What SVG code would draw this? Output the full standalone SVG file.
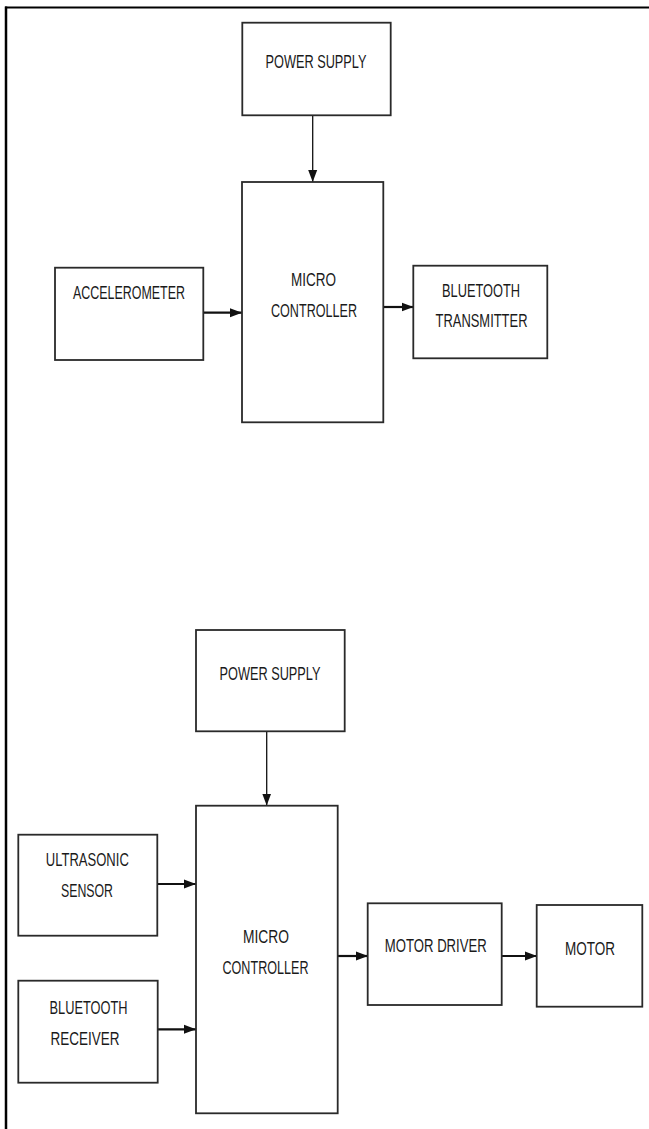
<svg xmlns="http://www.w3.org/2000/svg" width="649" height="1129" viewBox="0 0 649 1129">
<style>
.box{fill:#fff;stroke:#2a2a2a;stroke-width:1.8}
.t{font-family:"Liberation Sans",Arial,sans-serif;font-size:19px;fill:#1a1a1a;text-anchor:middle}
.thin{stroke:#111;stroke-width:1.3;fill:none}
.thick{stroke:#111;stroke-width:2.2;fill:none}
.frame{stroke:#000;fill:none}
</style>
<defs>
<marker id="ah" markerUnits="userSpaceOnUse" markerWidth="13" markerHeight="13" viewBox="0 0 13 13" refX="12" refY="6.5" orient="auto">
<path d="M0,2 L12,6.5 L0,11 Z" fill="#111"/>
</marker>
</defs>
<rect x="0" y="0" width="649" height="1129" fill="#fff"/>
<g id="frame">
<line class="frame" x1="5" y1="7.5" x2="649" y2="7.5" stroke-width="2"/>
<line class="frame" x1="6" y1="6.5" x2="6" y2="1129" stroke-width="2.5"/>
</g>
<g id="connectors">
<line class="thin" x1="312.7" y1="115.5" x2="312.7" y2="182" marker-end="url(#ah)"/>
<line class="thick" x1="203.5" y1="312.7" x2="242" y2="312.7" marker-end="url(#ah)"/>
<line class="thick" x1="383.5" y1="307" x2="413.5" y2="307" marker-end="url(#ah)"/>
<line class="thin" x1="266.7" y1="731.5" x2="266.7" y2="805.5" marker-end="url(#ah)"/>
<line class="thick" x1="157.5" y1="884" x2="196" y2="884" marker-end="url(#ah)"/>
<line class="thick" x1="157.5" y1="1029.3" x2="196" y2="1029.3" marker-end="url(#ah)"/>
<line class="thick" x1="337.7" y1="956" x2="368" y2="956" marker-end="url(#ah)"/>
<line class="thick" x1="502" y1="956" x2="537" y2="956" marker-end="url(#ah)"/>
</g>
<g id="power-supply-1">
<rect class="box" x="242.3" y="22.7" width="148.4" height="92.6"/>
<text class="t" x="316" y="68" textLength="101" lengthAdjust="spacingAndGlyphs">POWER SUPPLY</text>
</g>
<g id="micro-controller-1">
<rect class="box" x="242" y="182" width="141.3" height="240.3"/>
<text class="t" x="313.5" y="286" textLength="45" lengthAdjust="spacingAndGlyphs">MICRO</text>
<text class="t" x="314" y="316.5" textLength="86" lengthAdjust="spacingAndGlyphs">CONTROLLER</text>
</g>
<g id="accelerometer">
<rect class="box" x="55" y="267.7" width="148.3" height="92.3"/>
<text class="t" x="129" y="299" textLength="112" lengthAdjust="spacingAndGlyphs">ACCELEROMETER</text>
</g>
<g id="bluetooth-transmitter">
<rect class="box" x="413.3" y="265.7" width="134" height="92.6"/>
<text class="t" x="481" y="296.7" textLength="78" lengthAdjust="spacingAndGlyphs">BLUETOOTH</text>
<text class="t" x="481.5" y="327" textLength="92" lengthAdjust="spacingAndGlyphs">TRANSMITTER</text>
</g>
<g id="power-supply-2">
<rect class="box" x="196" y="630" width="148.7" height="101.3"/>
<text class="t" x="270" y="680" textLength="101" lengthAdjust="spacingAndGlyphs">POWER SUPPLY</text>
</g>
<g id="micro-controller-2">
<rect class="box" x="196" y="805.7" width="141.7" height="307.6"/>
<text class="t" x="266" y="943" textLength="46" lengthAdjust="spacingAndGlyphs">MICRO</text>
<text class="t" x="265.5" y="974" textLength="86" lengthAdjust="spacingAndGlyphs">CONTROLLER</text>
</g>
<g id="ultrasonic-sensor">
<rect class="box" x="18.3" y="834.7" width="139" height="101"/>
<text class="t" x="87.3" y="866" textLength="83" lengthAdjust="spacingAndGlyphs">ULTRASONIC</text>
<text class="t" x="87" y="896.7" textLength="52" lengthAdjust="spacingAndGlyphs">SENSOR</text>
</g>
<g id="bluetooth-receiver">
<rect class="box" x="18.3" y="980.7" width="139.4" height="102"/>
<text class="t" x="88.5" y="1014" textLength="78" lengthAdjust="spacingAndGlyphs">BLUETOOTH</text>
<text class="t" x="85" y="1045" textLength="69" lengthAdjust="spacingAndGlyphs">RECEIVER</text>
</g>
<g id="motor-driver">
<rect class="box" x="367.7" y="903.3" width="134" height="101.7"/>
<text class="t" x="435.8" y="952" textLength="102" lengthAdjust="spacingAndGlyphs">MOTOR DRIVER</text>
</g>
<g id="motor">
<rect class="box" x="536.7" y="905" width="105.6" height="101.7"/>
<text class="t" x="590" y="955" textLength="50" lengthAdjust="spacingAndGlyphs">MOTOR</text>
</g>
</svg>
